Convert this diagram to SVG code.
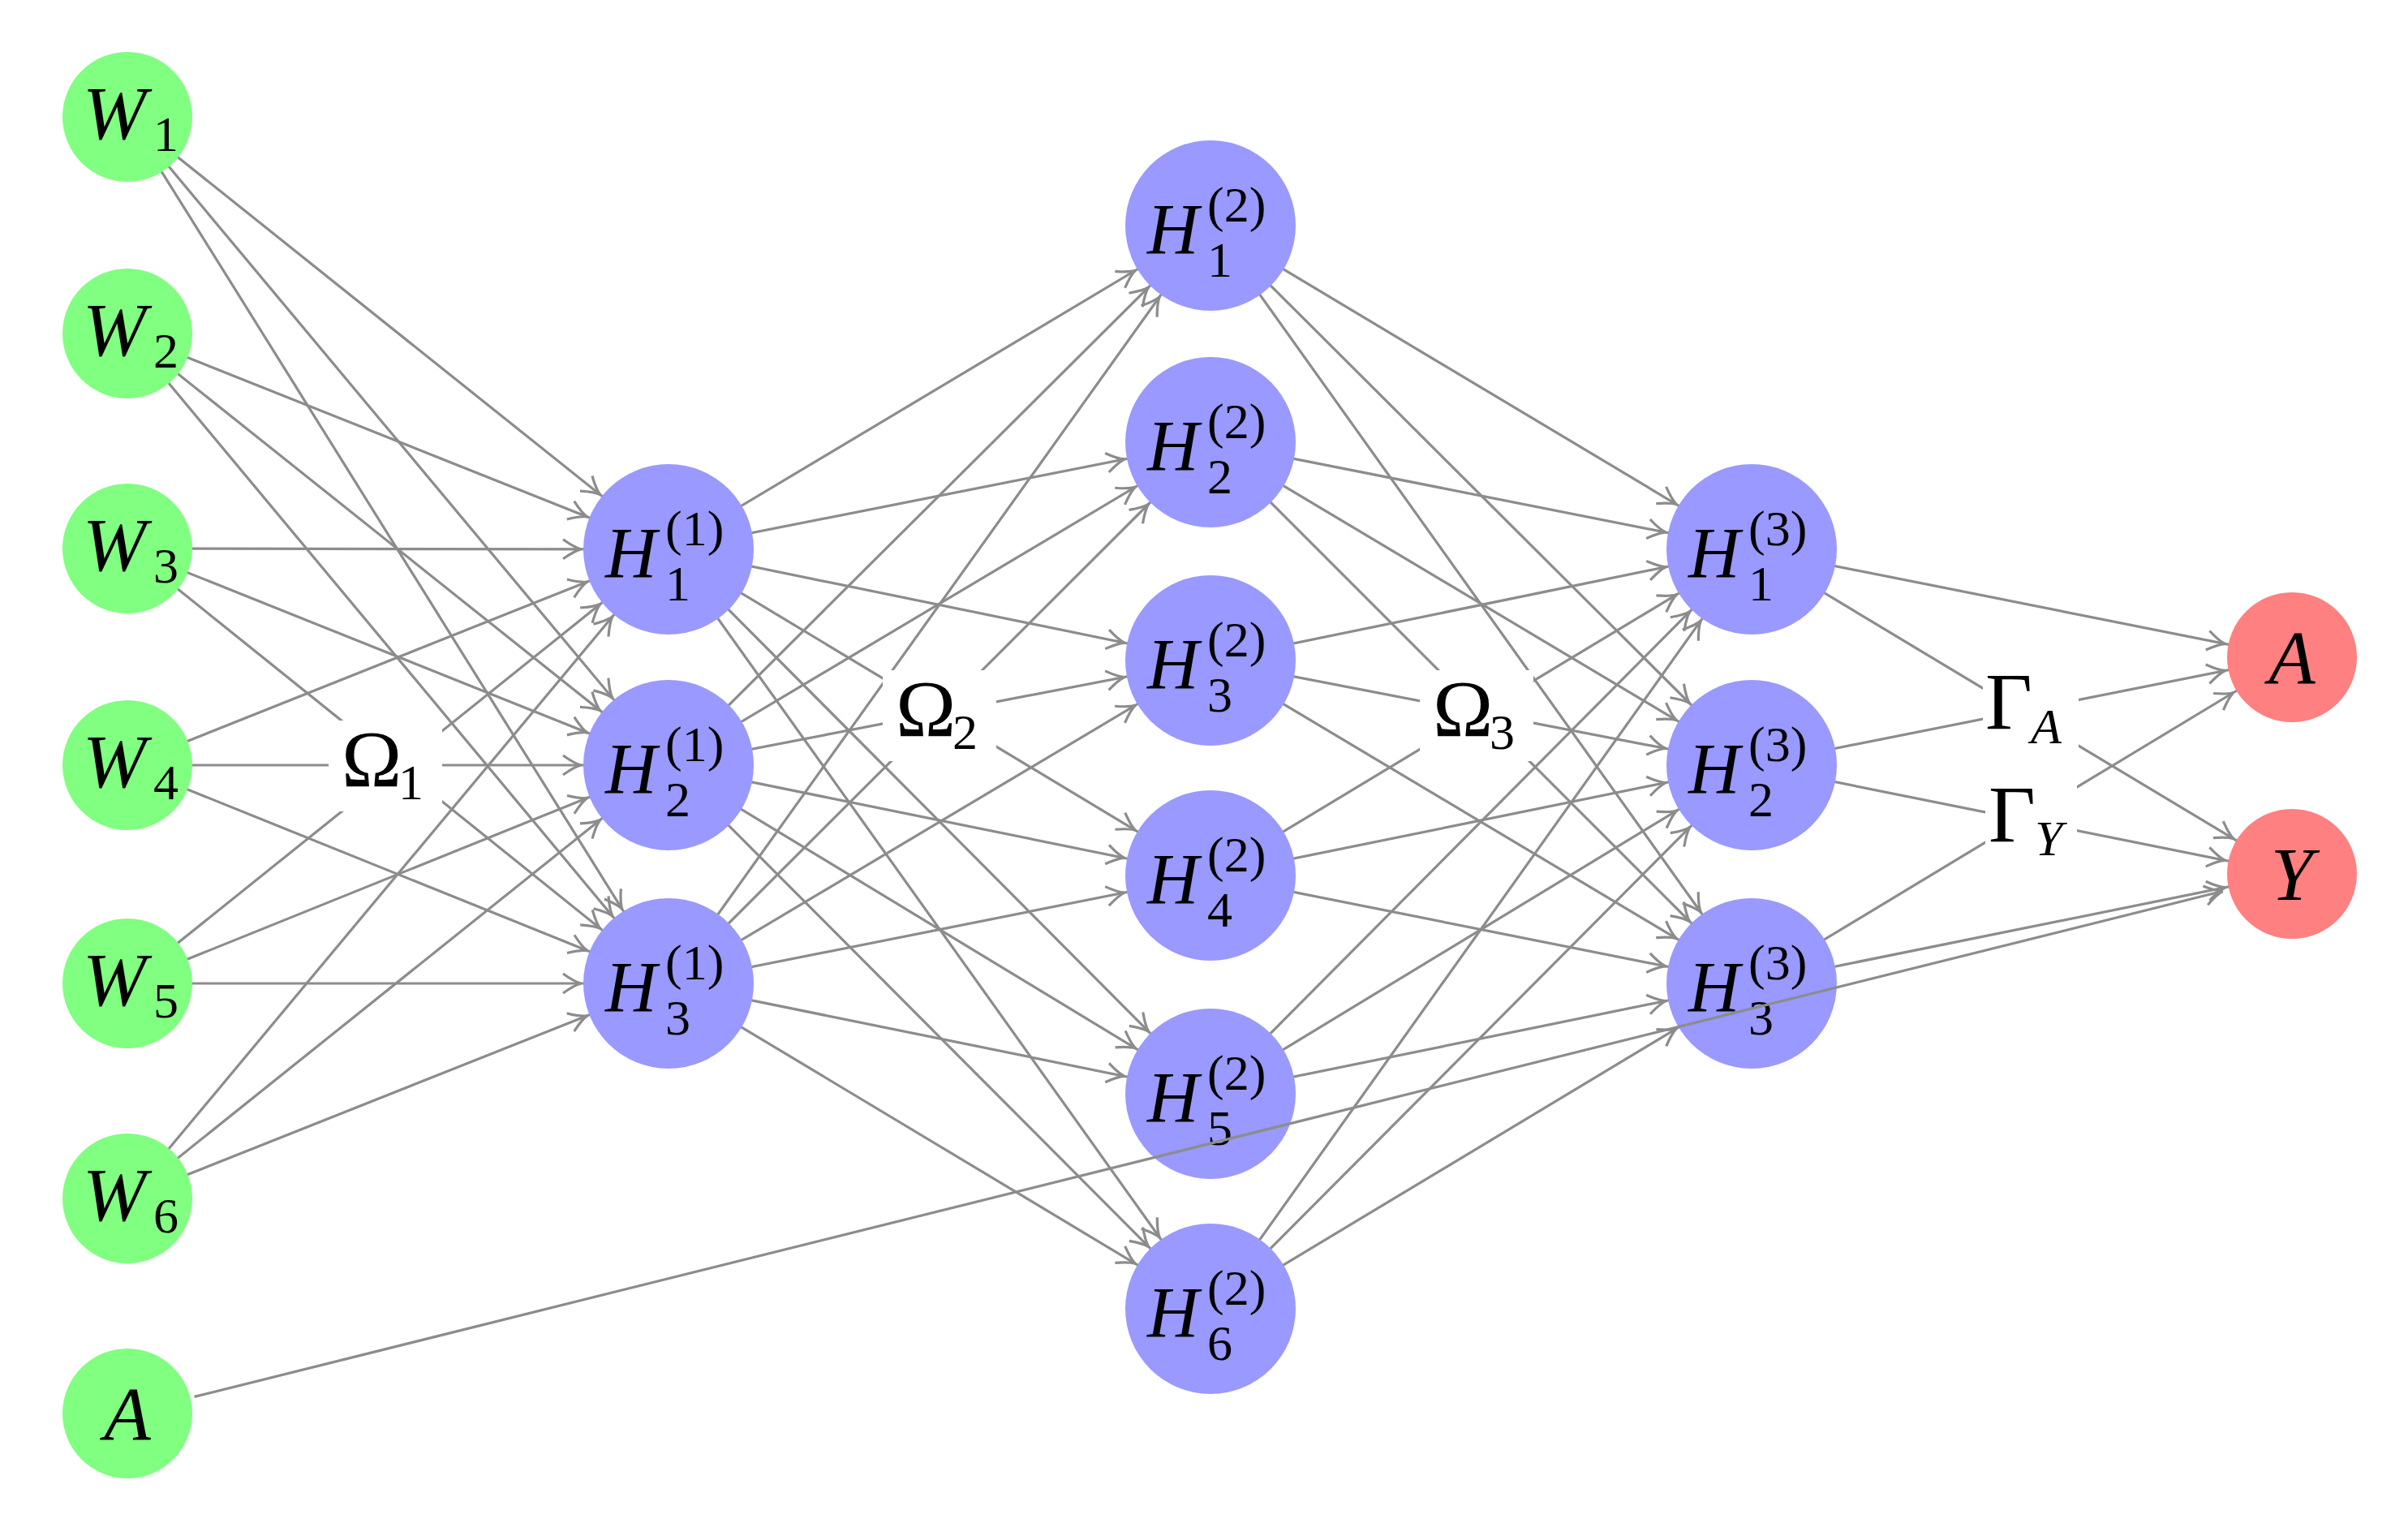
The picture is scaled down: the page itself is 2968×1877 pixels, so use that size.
<svg xmlns="http://www.w3.org/2000/svg" width="2968" height="1877" viewBox="0 0 2968 1877">
<style>
.e{stroke:#8c8c8c;stroke-width:3.2;fill:none}
.g{fill:#80ff80}.b{fill:#9999ff}.r{fill:#ff8080}
.t{font-family:"Liberation Serif",serif;fill:#000}
.i{font-style:italic}
.big{font-size:94px}.h{font-size:88px}.s{font-size:62px}.o{font-size:100px}
</style>
<defs>
<marker id="mh" markerUnits="userSpaceOnUse" markerWidth="40" markerHeight="40" refX="108" refY="0" orient="auto" overflow="visible"><path d="M-22,-12 Q-8,-2 0,0 Q-8,2 -22,12" class="e"/></marker>
<marker id="mo" markerUnits="userSpaceOnUse" markerWidth="40" markerHeight="40" refX="84" refY="0" orient="auto" overflow="visible"><path d="M-22,-12 Q-8,-2 0,0 Q-8,2 -22,12" class="e"/></marker>
<marker id="m0" markerUnits="userSpaceOnUse" markerWidth="40" markerHeight="40" refX="0" refY="0" orient="auto" overflow="visible"><path d="M-22,-12 Q-8,-2 0,0 Q-8,2 -22,12" class="e"/></marker>
</defs>
<rect width="2968" height="1877" fill="#fff"/>
<g id="connectors">
<g marker-end="url(#mh)">
<line class="e" x1="157" y1="144" x2="824" y2="677"/><line class="e" x1="157" y1="144" x2="824" y2="943"/><line class="e" x1="157" y1="144" x2="824" y2="1212"/>
<line class="e" x1="157" y1="411" x2="824" y2="677"/><line class="e" x1="157" y1="411" x2="824" y2="943"/><line class="e" x1="157" y1="411" x2="824" y2="1212"/>
<line class="e" x1="157" y1="676" x2="824" y2="677"/><line class="e" x1="157" y1="676" x2="824" y2="943"/><line class="e" x1="157" y1="676" x2="824" y2="1212"/>
<line class="e" x1="157" y1="943" x2="824" y2="677"/><line class="e" x1="157" y1="943" x2="824" y2="943"/><line class="e" x1="157" y1="943" x2="824" y2="1212"/>
<line class="e" x1="157" y1="1212" x2="824" y2="677"/><line class="e" x1="157" y1="1212" x2="824" y2="943"/><line class="e" x1="157" y1="1212" x2="824" y2="1212"/>
<line class="e" x1="157" y1="1477" x2="824" y2="677"/><line class="e" x1="157" y1="1477" x2="824" y2="943"/><line class="e" x1="157" y1="1477" x2="824" y2="1212"/>

<line class="e" x1="824" y1="677" x2="1492" y2="278"/><line class="e" x1="824" y1="677" x2="1492" y2="545"/><line class="e" x1="824" y1="677" x2="1492" y2="814"/><line class="e" x1="824" y1="677" x2="1492" y2="1079"/><line class="e" x1="824" y1="677" x2="1492" y2="1348"/><line class="e" x1="824" y1="677" x2="1492" y2="1613"/>
<line class="e" x1="824" y1="943" x2="1492" y2="278"/><line class="e" x1="824" y1="943" x2="1492" y2="545"/><line class="e" x1="824" y1="943" x2="1492" y2="814"/><line class="e" x1="824" y1="943" x2="1492" y2="1079"/><line class="e" x1="824" y1="943" x2="1492" y2="1348"/><line class="e" x1="824" y1="943" x2="1492" y2="1613"/>
<line class="e" x1="824" y1="1212" x2="1492" y2="278"/><line class="e" x1="824" y1="1212" x2="1492" y2="545"/><line class="e" x1="824" y1="1212" x2="1492" y2="814"/><line class="e" x1="824" y1="1212" x2="1492" y2="1079"/><line class="e" x1="824" y1="1212" x2="1492" y2="1348"/><line class="e" x1="824" y1="1212" x2="1492" y2="1613"/>

<line class="e" x1="1492" y1="278" x2="2159" y2="677"/><line class="e" x1="1492" y1="278" x2="2159" y2="943"/><line class="e" x1="1492" y1="278" x2="2159" y2="1212"/>
<line class="e" x1="1492" y1="545" x2="2159" y2="677"/><line class="e" x1="1492" y1="545" x2="2159" y2="943"/><line class="e" x1="1492" y1="545" x2="2159" y2="1212"/>
<line class="e" x1="1492" y1="814" x2="2159" y2="677"/><line class="e" x1="1492" y1="814" x2="2159" y2="943"/><line class="e" x1="1492" y1="814" x2="2159" y2="1212"/>
<line class="e" x1="1492" y1="1079" x2="2159" y2="677"/><line class="e" x1="1492" y1="1079" x2="2159" y2="943"/><line class="e" x1="1492" y1="1079" x2="2159" y2="1212"/>
<line class="e" x1="1492" y1="1348" x2="2159" y2="677"/><line class="e" x1="1492" y1="1348" x2="2159" y2="943"/><line class="e" x1="1492" y1="1348" x2="2159" y2="1212"/>
<line class="e" x1="1492" y1="1613" x2="2159" y2="677"/><line class="e" x1="1492" y1="1613" x2="2159" y2="943"/><line class="e" x1="1492" y1="1613" x2="2159" y2="1212"/>
</g>
<g marker-end="url(#mo)">
<line class="e" x1="2159" y1="677" x2="2825" y2="810"/><line class="e" x1="2159" y1="677" x2="2825" y2="1077"/>
<line class="e" x1="2159" y1="943" x2="2825" y2="810"/><line class="e" x1="2159" y1="943" x2="2825" y2="1077"/>
<line class="e" x1="2159" y1="1212" x2="2825" y2="810"/><line class="e" x1="2159" y1="1212" x2="2825" y2="1077"/>
</g>
</g>
<g id="labels">
<rect x="405" y="888" width="140" height="112" fill="#fff"/>
<text class="t o" x="421" y="969">Ω<tspan class="s" x="491" y="985">1</tspan></text>
<rect x="1088" y="826" width="140" height="112" fill="#fff"/>
<text class="t o" x="1104" y="907">Ω<tspan class="s" x="1174" y="923">2</tspan></text>
<rect x="1750" y="826" width="140" height="112" fill="#fff"/>
<text class="t o" x="1766" y="907">Ω<tspan class="s" x="1836" y="923">3</tspan></text>
<rect x="2444" y="826" width="118" height="98" fill="#fff"/>
<text class="t o" x="2447" y="898">Γ<tspan class="s i" x="2503" y="916">A</tspan></text>
<rect x="2447" y="958" width="113" height="104" fill="#fff"/>
<text class="t o" x="2451" y="1037">Γ<tspan class="s i" x="2508" y="1054">Y</tspan></text>
</g>
<g id="W1" transform="translate(157,144)"><circle class="g" r="80"/><text class="t big i" x="-55" y="27">W</text><text class="t s" x="32" y="42">1</text></g>
<g id="W2" transform="translate(157,411)"><circle class="g" r="80"/><text class="t big i" x="-55" y="27">W</text><text class="t s" x="32" y="42">2</text></g>
<g id="W3" transform="translate(157,676)"><circle class="g" r="80"/><text class="t big i" x="-55" y="27">W</text><text class="t s" x="32" y="42">3</text></g>
<g id="W4" transform="translate(157,943)"><circle class="g" r="80"/><text class="t big i" x="-55" y="27">W</text><text class="t s" x="32" y="42">4</text></g>
<g id="W5" transform="translate(157,1212)"><circle class="g" r="80"/><text class="t big i" x="-55" y="27">W</text><text class="t s" x="32" y="42">5</text></g>
<g id="W6" transform="translate(157,1477)"><circle class="g" r="80"/><text class="t big i" x="-55" y="27">W</text><text class="t s" x="32" y="42">6</text></g>
<g id="Ain" transform="translate(157,1742)"><circle class="g" r="80"/><text class="t big i" x="0" y="32" text-anchor="middle">A</text></g>

<g id="H1_1" transform="translate(824,677)"><circle class="b" r="105"/><text class="t h i" x="-78" y="34">H</text><text class="t s" x="-4" y="-5">(1)</text><text class="t s" x="-4" y="63">1</text></g>
<g id="H1_2" transform="translate(824,943)"><circle class="b" r="105"/><text class="t h i" x="-78" y="34">H</text><text class="t s" x="-4" y="-5">(1)</text><text class="t s" x="-4" y="63">2</text></g>
<g id="H1_3" transform="translate(824,1212)"><circle class="b" r="105"/><text class="t h i" x="-78" y="34">H</text><text class="t s" x="-4" y="-5">(1)</text><text class="t s" x="-4" y="63">3</text></g>

<g id="H2_1" transform="translate(1492,278)"><circle class="b" r="105"/><text class="t h i" x="-78" y="34">H</text><text class="t s" x="-4" y="-5">(2)</text><text class="t s" x="-4" y="63">1</text></g>
<g id="H2_2" transform="translate(1492,545)"><circle class="b" r="105"/><text class="t h i" x="-78" y="34">H</text><text class="t s" x="-4" y="-5">(2)</text><text class="t s" x="-4" y="63">2</text></g>
<g id="H2_3" transform="translate(1492,814)"><circle class="b" r="105"/><text class="t h i" x="-78" y="34">H</text><text class="t s" x="-4" y="-5">(2)</text><text class="t s" x="-4" y="63">3</text></g>
<g id="H2_4" transform="translate(1492,1079)"><circle class="b" r="105"/><text class="t h i" x="-78" y="34">H</text><text class="t s" x="-4" y="-5">(2)</text><text class="t s" x="-4" y="63">4</text></g>
<g id="H2_5" transform="translate(1492,1348)"><circle class="b" r="105"/><text class="t h i" x="-78" y="34">H</text><text class="t s" x="-4" y="-5">(2)</text><text class="t s" x="-4" y="63">5</text></g>
<g id="H2_6" transform="translate(1492,1613)"><circle class="b" r="105"/><text class="t h i" x="-78" y="34">H</text><text class="t s" x="-4" y="-5">(2)</text><text class="t s" x="-4" y="63">6</text></g>

<g id="H3_1" transform="translate(2159,677)"><circle class="b" r="105"/><text class="t h i" x="-78" y="34">H</text><text class="t s" x="-4" y="-5">(3)</text><text class="t s" x="-4" y="63">1</text></g>
<g id="H3_2" transform="translate(2159,943)"><circle class="b" r="105"/><text class="t h i" x="-78" y="34">H</text><text class="t s" x="-4" y="-5">(3)</text><text class="t s" x="-4" y="63">2</text></g>
<g id="H3_3" transform="translate(2159,1212)"><circle class="b" r="105"/><text class="t h i" x="-78" y="34">H</text><text class="t s" x="-4" y="-5">(3)</text><text class="t s" x="-4" y="63">3</text></g>

<g id="Aout" transform="translate(2825,810)"><circle class="r" r="80"/><text class="t big i" x="0" y="32" text-anchor="middle">A</text></g>
<g id="Yout" transform="translate(2825,1077)"><circle class="r" r="80"/><text class="t big i" x="0" y="32" text-anchor="middle">Y</text></g>

<g id="connector-A-Y"><line class="e" x1="239.5" y1="1721.4" x2="2739.6" y2="1098.3" marker-end="url(#m0)"/></g>
</svg>
